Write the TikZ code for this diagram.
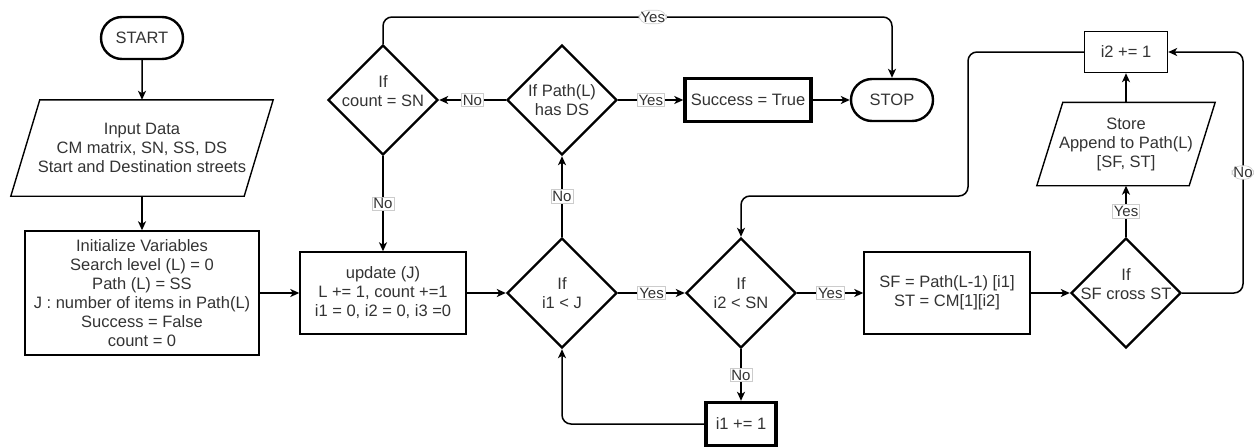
\documentclass[tikz,border=0pt]{standalone}
\usepackage{fontspec}
\setmainfont{Liberation Sans}
\usepackage{xcolor}
\usepackage{tikz}
\usetikzlibrary{shapes.geometric, shapes.misc, arrows.meta}
\definecolor{txt}{HTML}{333333}
\tikzset{>={Stealth[length=9pt, width=8pt, inset=2.5pt]}}
\tikzset{
  base/.style={text=txt, align=center, font=\fontsize{16.5}{19}\selectfont, inner sep=0pt},
  terminal/.style={base, rounded rectangle, draw, line width=2.4pt, minimum width=82pt, minimum height=42pt},
  process/.style={base, rectangle, draw, line width=1.4pt},
  thickbox/.style={process, line width=3.4pt},
  inout/.style={base, rectangle},
  decision/.style={base, diamond, draw, line width=2.4pt, minimum width=110pt, minimum height=110pt},
  edge/.style={->, line width=1.5pt},
  lbl/.style={fill=white, draw=gray!40, line width=0.6pt, text=txt, font=\fontsize{15}{17}\selectfont, inner sep=1.5pt},
}

\begin{document}
\begin{tikzpicture}[x=1pt, y=-1pt]
    \useasboundingbox (0,0) rectangle (1254,447);

    % Left column
    \node[terminal] (start) at (142,38) {START};
    \node[inout, minimum width=262pt, minimum height=96pt] (input) at (142,148) {Input Data\\CM matrix, SN, SS, DS\\Start and Destination streets};
    \node[process, minimum width=234pt, minimum height=124pt] (init) at (142,293) {Initialize Variables\\Search level (L) = 0\\Path (L) = SS\\J : number of items in Path(L)\\Success = False\\count = 0};

    % Boxes
    \node[process, minimum width=166pt, minimum height=82pt] (upd) at (383,293) {update (J)\\L += 1, count +=1\\i1 = 0, i2 = 0, i3 =0};
    \node[thickbox, minimum width=126pt, minimum height=43pt] (succ) at (748,100) {Success = True};
    \node[terminal] (stop) at (892,100) {STOP};
    \node[thickbox, minimum width=70pt, minimum height=43pt] (inc1) at (741,424) {i1 += 1};
    \node[process, minimum width=166pt, minimum height=82pt] (sfbox) at (947,293) {SF = Path(L-1) [i1]\\ST = CM[1][i2]};
    \node[inout, minimum width=178pt, minimum height=83pt] (store) at (1126,144) {Store\\Append to Path(L)\\{}[SF, ST]};
    \node[process, minimum width=83pt, minimum height=41pt] (inc2) at (1126,52) {i2 += 1};

    % Parallelograms
    \foreach \n/\s in {input/29, store/26}{
        \draw[line width=1.4pt] ([xshift=\s pt]\n.north west) -- (\n.north east) -- ([xshift=-\s pt]\n.south east) -- (\n.south west) -- cycle;
    }

    % Decisions
    \foreach \n/\x/\y/\s/\t in {cnt/383/100/9/{If\\count = SN}, hasds/562/100/0/{If Path(L)\\has DS},
                                i1j/562/293/0/{If\\i1 < J}, i2sn/741/293/0/{If\\i2 < SN},
                                sfx/1126/293/9/{If\\SF cross ST}}{
        \node[decision, label={[base, name=\n-t, yshift=\s pt]center:\t}] (\n) at (\x,\y) {};
    }

    % Plain arrows
    \foreach \a/\b in {start/input, input/init, init/upd, upd/i1j, succ/stop, sfbox/sfx, store/inc2}{
        \draw[edge] (\a) -- (\b);
    }

    % Labelled arrows
    \foreach \a/\b/\t in {i1j/hasds/No, hasds/cnt/No, cnt/upd/No, hasds/succ/Yes,
                          i1j/i2sn/Yes, i2sn/inc1/No, i2sn/sfbox/Yes, sfx/store/Yes}{
        \draw[edge] (\a) -- node[lbl] {\t} (\b);
    }

    % Loops
    \coordinate (top) at (0,17);
    \coordinate (rx) at (1243,0);
    \coordinate (lx) at (968,196);
    \draw[edge, rounded corners=9pt] (cnt.north) -- (cnt.north |- top) -- node[lbl, pos=0.53] {Yes} (stop.north |- top) -- (stop.north);
    \draw[edge, rounded corners=9pt] (inc1.west) -| (i1j.south);
    \draw[edge, rounded corners=9pt] (sfx.east) -- (sfx.east -| rx) -- node[lbl] {No} (inc2.east -| rx) -- (inc2.east);
    \draw[edge, rounded corners=9pt] (inc2.west) -| (lx) -| (i2sn.north);

\end{tikzpicture}
\end{document}
